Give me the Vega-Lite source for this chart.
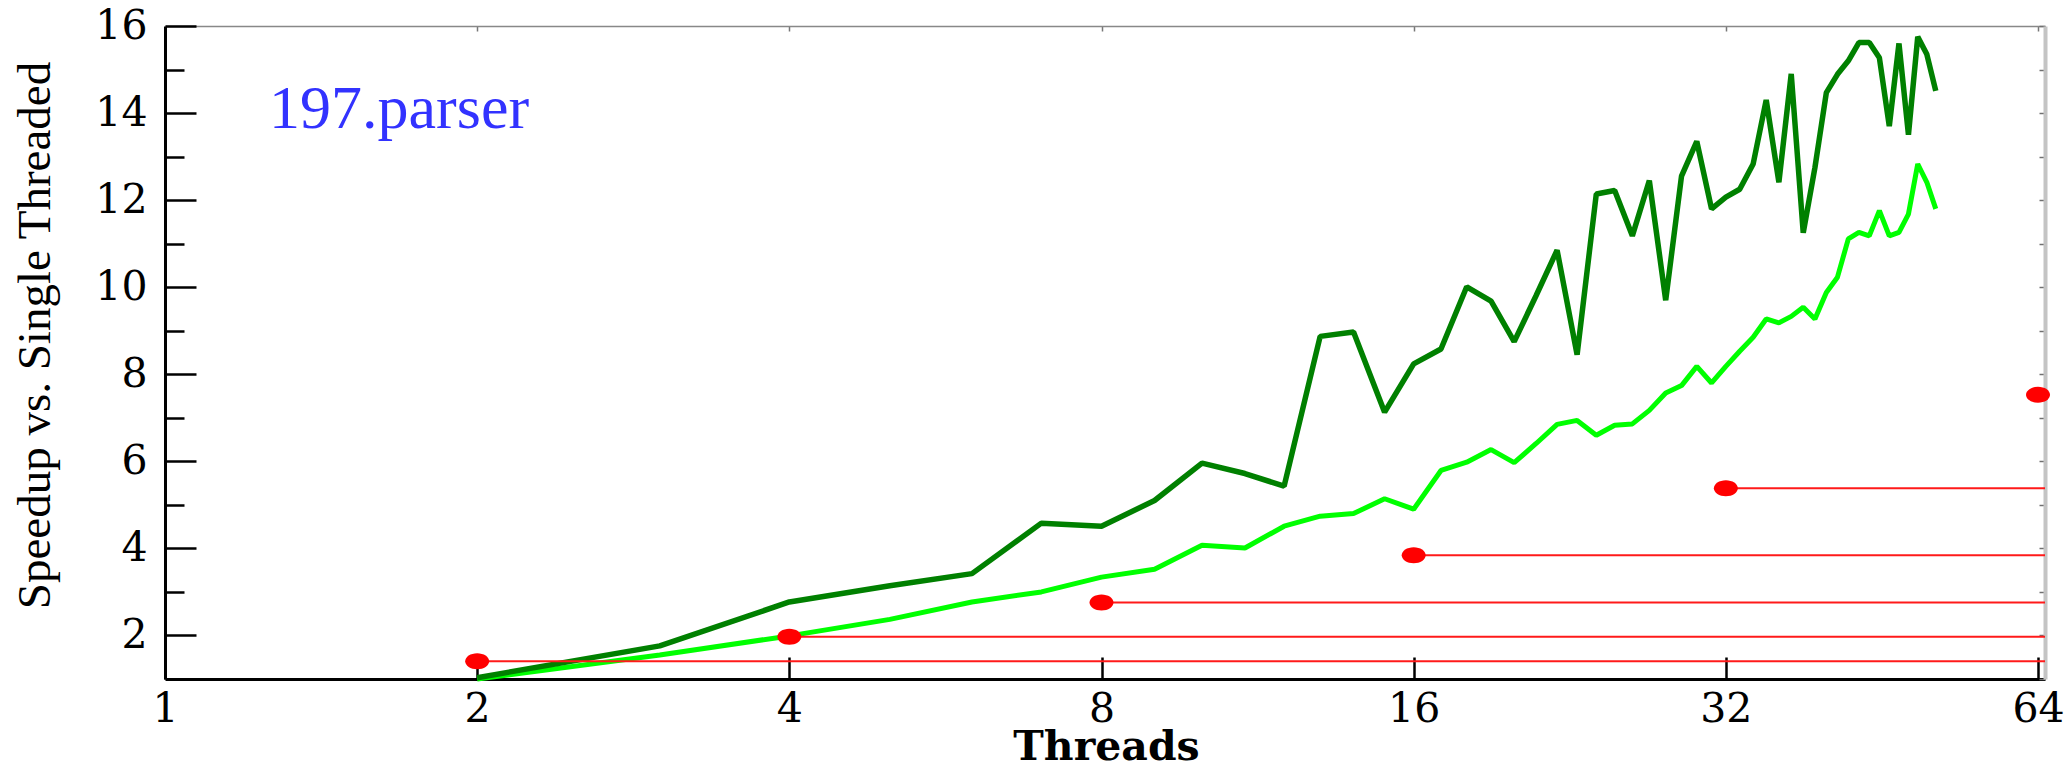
{
  "$schema": "https://vega.github.io/schema/vega-lite/v6.json",
  "width": 1880,
  "height": 653,
  "autosize": {"type": "none"},
  "padding": {"left": 165, "top": 26, "right": 23, "bottom": 89},
  "background": "white",
  "config": {"view": {"stroke": null}},
  "datasets": {
    "upper": [
      {"threads": 2, "speedup": 1.03}, {"threads": 3, "speedup": 1.76}, {"threads": 4, "speedup": 2.77},
      {"threads": 5, "speedup": 3.14}, {"threads": 6, "speedup": 3.42}, {"threads": 7, "speedup": 4.58},
      {"threads": 8, "speedup": 4.51}, {"threads": 9, "speedup": 5.1}, {"threads": 10, "speedup": 5.96},
      {"threads": 11, "speedup": 5.72}, {"threads": 12, "speedup": 5.43}, {"threads": 13, "speedup": 8.87},
      {"threads": 14, "speedup": 8.97}, {"threads": 15, "speedup": 7.13}, {"threads": 16, "speedup": 8.24},
      {"threads": 17, "speedup": 8.58}, {"threads": 18, "speedup": 10.01}, {"threads": 19, "speedup": 9.68},
      {"threads": 20, "speedup": 8.75}, {"threads": 21, "speedup": 9.81}, {"threads": 22, "speedup": 10.85},
      {"threads": 23, "speedup": 8.45}, {"threads": 24, "speedup": 12.14}, {"threads": 25, "speedup": 12.22},
      {"threads": 26, "speedup": 11.18}, {"threads": 27, "speedup": 12.45}, {"threads": 28, "speedup": 9.7},
      {"threads": 29, "speedup": 12.55}, {"threads": 30, "speedup": 13.35}, {"threads": 31, "speedup": 11.8},
      {"threads": 32, "speedup": 12.07}, {"threads": 33, "speedup": 12.25}, {"threads": 34, "speedup": 12.83},
      {"threads": 35, "speedup": 14.3}, {"threads": 36, "speedup": 12.41}, {"threads": 37, "speedup": 14.9},
      {"threads": 38, "speedup": 11.25}, {"threads": 39, "speedup": 12.75}, {"threads": 40, "speedup": 14.47},
      {"threads": 41, "speedup": 14.89}, {"threads": 42, "speedup": 15.2}, {"threads": 43, "speedup": 15.62},
      {"threads": 44, "speedup": 15.62}, {"threads": 45, "speedup": 15.27}, {"threads": 46, "speedup": 13.7},
      {"threads": 47, "speedup": 15.6}, {"threads": 48, "speedup": 13.5}, {"threads": 49, "speedup": 15.75},
      {"threads": 50, "speedup": 15.35}, {"threads": 51, "speedup": 14.51}
    ],
    "lower": [
      {"threads": 2, "speedup": 1.0}, {"threads": 3, "speedup": 1.55}, {"threads": 4, "speedup": 1.99},
      {"threads": 5, "speedup": 2.37}, {"threads": 6, "speedup": 2.77}, {"threads": 7, "speedup": 3.0},
      {"threads": 8, "speedup": 3.34}, {"threads": 9, "speedup": 3.52}, {"threads": 10, "speedup": 4.07},
      {"threads": 11, "speedup": 4.01}, {"threads": 12, "speedup": 4.51}, {"threads": 13, "speedup": 4.74},
      {"threads": 14, "speedup": 4.8}, {"threads": 15, "speedup": 5.14}, {"threads": 16, "speedup": 4.9},
      {"threads": 17, "speedup": 5.79}, {"threads": 18, "speedup": 5.98}, {"threads": 19, "speedup": 6.27},
      {"threads": 20, "speedup": 5.97}, {"threads": 21, "speedup": 6.41}, {"threads": 22, "speedup": 6.85},
      {"threads": 23, "speedup": 6.94}, {"threads": 24, "speedup": 6.6}, {"threads": 25, "speedup": 6.83},
      {"threads": 26, "speedup": 6.86}, {"threads": 27, "speedup": 7.17}, {"threads": 28, "speedup": 7.57},
      {"threads": 29, "speedup": 7.74}, {"threads": 30, "speedup": 8.18}, {"threads": 31, "speedup": 7.8},
      {"threads": 32, "speedup": 8.18}, {"threads": 33, "speedup": 8.53}, {"threads": 34, "speedup": 8.85},
      {"threads": 35, "speedup": 9.27}, {"threads": 36, "speedup": 9.18}, {"threads": 37, "speedup": 9.33},
      {"threads": 38, "speedup": 9.54}, {"threads": 39, "speedup": 9.27}, {"threads": 40, "speedup": 9.88},
      {"threads": 41, "speedup": 10.23}, {"threads": 42, "speedup": 11.11}, {"threads": 43, "speedup": 11.26},
      {"threads": 44, "speedup": 11.18}, {"threads": 45, "speedup": 11.76}, {"threads": 46, "speedup": 11.18},
      {"threads": 47, "speedup": 11.26}, {"threads": 48, "speedup": 11.68}, {"threads": 49, "speedup": 12.83},
      {"threads": 50, "speedup": 12.41}, {"threads": 51, "speedup": 11.8}
    ],
    "ideal": [
      {"threads": 2, "speedup": 1.41, "to": 65},
      {"threads": 4, "speedup": 1.97, "to": 65},
      {"threads": 8, "speedup": 2.76, "to": 65},
      {"threads": 16, "speedup": 3.84, "to": 65},
      {"threads": 32, "speedup": 5.38, "to": 65},
      {"threads": 64, "speedup": 7.53, "to": 65}
    ],
    "caption": [
      {"threads": 1.26, "speedup": 13.66, "text": "197.parser"}
    ]
  },
  "resolve": {"axis": {"x": "independent", "y": "independent"}},
  "layer": [
    {
      "data": {"name": "lower"},
      "mark": {"type": "line", "color": "#00ff00", "strokeWidth": 5, "strokeJoin": "bevel"},
      "encoding": {
        "x": {"field": "threads", "type": "quantitative", "scale": {"type": "log", "base": 2, "domain": [1, 65], "nice": false}, "axis": null},
        "y": {"field": "speedup", "type": "quantitative", "scale": {"domain": [1, 16], "nice": false, "zero": false}, "axis": null}
      }
    },
    {
      "data": {"name": "upper"},
      "mark": {"type": "line", "color": "#008000", "strokeWidth": 5.5, "strokeJoin": "bevel"},
      "encoding": {
        "x": {
          "field": "threads", "type": "quantitative",
          "scale": {"type": "log", "base": 2, "domain": [1, 65], "nice": false},
          "axis": {
            "orient": "bottom", "values": [1, 2, 4, 8, 16, 32, 64],
            "grid": false, "domainColor": "black", "domainWidth": 3,
            "tickColor": "black", "tickWidth": 2.5, "tickSize": -22,
            "labelFont": "DejaVu Serif", "labelFontSize": 41, "labelColor": "black",
            "labelBaseline": "alphabetic", "labelPadding": 64, "labelFlush": false, "labelOverlap": false,
            "title": "Threads", "titleFont": "DejaVu Serif", "titleFontSize": 41, "titleFontWeight": "bold",
            "titleColor": "black", "titleX": 941, "titleY": 89, "titleAlign": "center", "titleBaseline": "bottom"
          }
        },
        "y": {
          "field": "speedup", "type": "quantitative",
          "scale": {"domain": [1, 16], "nice": false, "zero": false},
          "axis": {
            "orient": "left", "values": [2, 4, 6, 8, 10, 12, 14, 16],
            "grid": false, "domainColor": "black", "domainWidth": 3,
            "tickColor": "black", "tickWidth": 2.5, "tickSize": -31,
            "labelFont": "DejaVu Serif", "labelFontSize": 41, "labelColor": "black",
            "labelPadding": 49, "labelFlush": false, "labelOverlap": false,
            "title": "Speedup vs.  Single Threaded", "titleFont": "Liberation Serif", "titleFontSize": 47,
            "titleFontWeight": "normal", "titleColor": "black", "titleAngle": 270,
            "titleX": -116, "titleY": 309, "titleAlign": "center", "titleBaseline": "alphabetic"
          }
        }
      }
    },
    {
      "data": {"name": "ideal"},
      "mark": {"type": "rule", "color": "#ff1a1a", "strokeWidth": 2},
      "encoding": {
        "x": {
          "field": "threads", "type": "quantitative",
          "scale": {"type": "log", "base": 2, "domain": [1, 65], "nice": false},
          "axis": {
            "orient": "top", "values": [2, 4, 8, 16, 32, 64],
            "grid": false, "domainColor": "#888888", "domainWidth": 1.5,
            "tickColor": "#777777", "tickWidth": 1.5, "tickSize": -5,
            "labels": false, "title": null
          }
        },
        "x2": {"field": "to"},
        "y": {
          "field": "speedup", "type": "quantitative",
          "scale": {"domain": [1, 16], "nice": false, "zero": false},
          "axis": {
            "orient": "left", "values": [3, 5, 7, 9, 11, 13, 15],
            "grid": false, "domain": false,
            "tickColor": "black", "tickWidth": 2.5, "tickSize": -19,
            "labels": false, "title": null
          }
        }
      }
    },
    {
      "data": {"name": "ideal"},
      "mark": {"type": "point", "shape": "M -1 0 A 1 0.667 0 1 0 1 0 A 1 0.667 0 1 0 -1 0 Z", "size": 576, "filled": true, "color": "#ff0000", "opacity": 1},
      "encoding": {
        "x": {"field": "threads", "type": "quantitative", "scale": {"type": "log", "base": 2, "domain": [1, 65], "nice": false}, "axis": null},
        "y": {
          "field": "speedup", "type": "quantitative",
          "scale": {"domain": [1, 16], "nice": false, "zero": false},
          "axis": {
            "orient": "right", "values": [1, 2, 3, 4, 5, 6, 7, 8, 9, 10, 11, 12, 13, 14, 15, 16],
            "grid": false, "domainColor": "#c4c4c4", "domainWidth": 4,
            "tickColor": "#707070", "tickWidth": 1.5, "tickSize": -6,
            "labels": false, "title": null
          }
        }
      }
    },
    {
      "data": {"name": "caption"},
      "mark": {"type": "text", "font": "Liberation Serif", "fontSize": 62, "color": "#3232ff", "align": "left", "baseline": "alphabetic"},
      "encoding": {
        "x": {"field": "threads", "type": "quantitative", "scale": {"type": "log", "base": 2, "domain": [1, 65], "nice": false}, "axis": null},
        "y": {"field": "speedup", "type": "quantitative", "scale": {"domain": [1, 16], "nice": false, "zero": false}, "axis": null},
        "text": {"field": "text"}
      }
    }
  ]
}
